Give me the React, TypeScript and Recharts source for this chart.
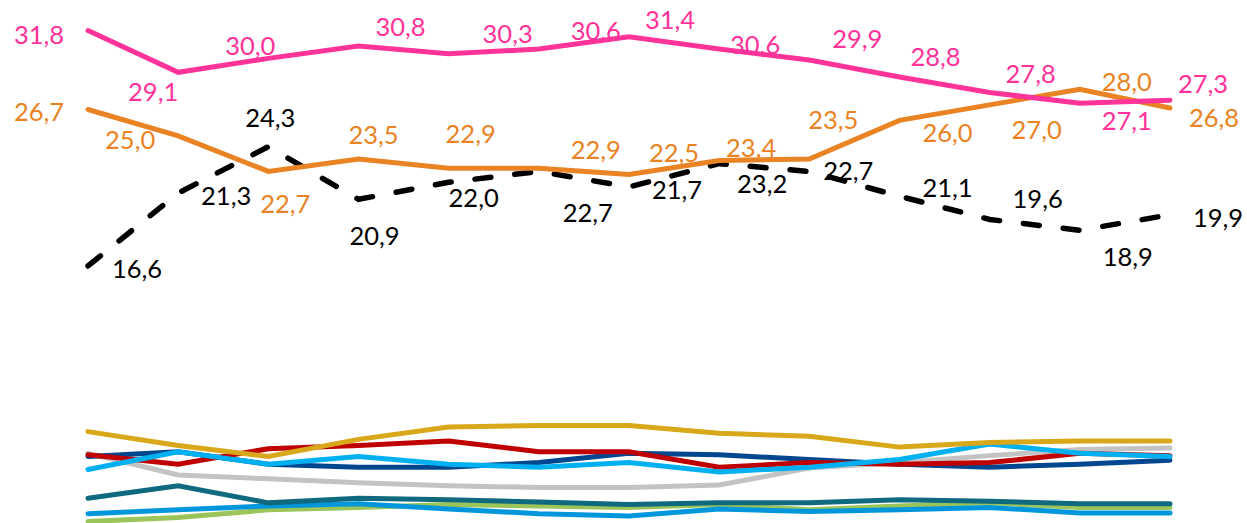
import React from 'react';
import { LabelList, Line, LineChart, XAxis, YAxis } from 'recharts';

// periods along the x axis (not labelled in the chart)
const periods = ['1', '2', '3', '4', '5', '6', '7', '8', '9', '10', '11', '12', '13'];

// labelled series
const pinkValues = [31.8, 29.1, 30.0, 30.8, 30.3, 30.6, 31.4, 30.6, 29.9, 28.8, 27.8, 27.1, 27.3];
const orangeValues = [26.7, 25.0, 22.7, 23.5, 22.9, 22.9, 22.5, 23.4, 23.5, 26.0, 27.0, 28.0, 26.8];
const blackValues = [16.6, 21.3, 24.3, 20.9, 22.0, 22.7, 21.7, 23.2, 22.7, 21.1, 19.6, 18.9, 19.9];

// small series without labels
const goldValues = [5.9, 5.0, 4.3, 5.4, 6.2, 6.3, 6.3, 5.8, 5.6, 4.9, 5.2, 5.3, 5.3];
const redValues = [4.4, 3.8, 4.8, 5.0, 5.3, 4.6, 4.6, 3.6, 3.9, 3.8, 3.9, 4.5, 4.35];
const navyValues = [4.3, 4.6, 3.8, 3.6, 3.6, 3.9, 4.5, 4.4, 4.1, 3.8, 3.6, 3.8, 4.05];
const cyanValues = [3.45, 4.6, 3.8, 4.3, 3.8, 3.6, 3.9, 3.3, 3.6, 4.1, 5.1, 4.5, 4.3];
const greyValues = [4.5, 3.1, 2.85, 2.6, 2.4, 2.3, 2.3, 2.45, 3.55, 3.9, 4.35, 4.75, 4.85];
const tealValues = [1.6, 2.4, 1.3, 1.6, 1.5, 1.35, 1.2, 1.3, 1.3, 1.5, 1.4, 1.25, 1.25];
const blueValues = [0.6, 0.85, 1.1, 1.25, 0.9, 0.6, 0.45, 0.9, 0.75, 0.85, 1.0, 0.65, 0.65];
const greenValues = [0.1, 0.35, 0.85, 1.0, 1.2, 1.1, 1.0, 1.2, 0.85, 1.1, 1.3, 1.0, 1.0];

// label placement relative to each point (px)
const pinkDx = [-49, -25, -18, 42, 59, 57, 41, 36, 48, 36, 41, 47, 33];
const pinkDy = [3, 19, -13, -20, -21, -19, -18, -5, -22, -21, -19, 17, -17];
const orangeDx = [-49, -48, 17, 15, 22, 57, 45, 32, 24, 48, 47, 47, 44];
const orangeDy = [2, 3, 32, -25, -35, -19, -23, -14, -40, 12, 24, -8, 9];
const blackDx = [49, 48, 2, 16, 25, 49, 48, 43, 39, 48, 48, 48, 48];
const blackDy = [2, 2, -30, 36, 15, 41, 2, 19, -1, -9, -21, 26, 2];

const data = periods.map((p, i) => ({
  period: p,
  pink: pinkValues[i],
  orange: orangeValues[i],
  black: blackValues[i],
  gold: goldValues[i],
  red: redValues[i],
  navy: navyValues[i],
  cyan: cyanValues[i],
  grey: greyValues[i],
  teal: tealValues[i],
  blue: blueValues[i],
  green: greenValues[i],
}));

const makeLabel = (dx: number[], dy: number[], color: string) => (props: any) => {
  const { x, y, index, value } = props;
  if (value == null) return null;
  return (
    <text
      x={Number(x) + dx[index]}
      y={Number(y) + dy[index]}
      textAnchor="middle"
      dominantBaseline="central"
      fill={color}
      fontSize={25.5}
      fontFamily="Lato, sans-serif"
    >
      {Number(value).toFixed(1).replace('.', ',')}
    </text>
  );
};

const smallLines = [
  { key: 'green', color: '#9BC55A' },
  { key: 'blue', color: '#0096DB' },
  { key: 'teal', color: '#0F6A80' },
  { key: 'grey', color: '#C3C3C3' },
  { key: 'navy', color: '#00478F' },
  { key: 'red', color: '#C00000' },
  { key: 'cyan', color: '#00B0F0' },
  { key: 'gold', color: '#D9A81A' },
];

const App: React.FC = () => {
  return (
    <div style={{ position: 'absolute', left: 0, top: 0, width: 1247, height: 523, background: '#fff' }}>
      <LineChart width={1247} height={523} data={data} margin={{ top: 0, right: 77, left: 88, bottom: 0 }}>
        <XAxis dataKey="period" hide />
        <YAxis hide domain={[0, 33.77]} />
        {smallLines.map((s) => (
          <Line
            key={s.key}
            type="linear"
            dataKey={s.key}
            stroke={s.color}
            strokeWidth={5}
            strokeLinecap="round"
            dot={false}
            isAnimationActive={false}
          />
        ))}
        <Line
          type="linear"
          dataKey="black"
          stroke="#000"
          strokeWidth={5.5}
          strokeDasharray="16 24"
          strokeLinecap="round"
          dot={false}
          isAnimationActive={false}
        >
          <LabelList dataKey="black" content={makeLabel(blackDx, blackDy, '#000')} />
        </Line>
        <Line
          type="linear"
          dataKey="orange"
          stroke="#E98324"
          strokeWidth={5}
          strokeLinecap="round"
          dot={false}
          isAnimationActive={false}
        >
          <LabelList dataKey="orange" content={makeLabel(orangeDx, orangeDy, '#E98324')} />
        </Line>
        <Line
          type="linear"
          dataKey="pink"
          stroke="#FF3399"
          strokeWidth={5}
          strokeLinecap="round"
          dot={false}
          isAnimationActive={false}
        >
          <LabelList dataKey="pink" content={makeLabel(pinkDx, pinkDy, '#FF3399')} />
        </Line>
      </LineChart>
    </div>
  );
};

export default App;
